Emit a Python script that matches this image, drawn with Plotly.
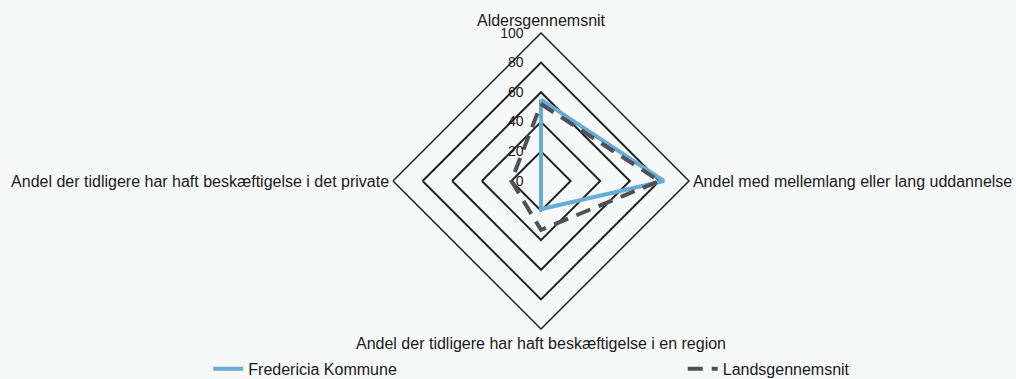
import plotly.graph_objects as go

categories = [
    "Aldersgennemsnit",
    "Andel med mellemlang eller lang uddannelse",
    "Andel der tidligere har haft beskæftigelse i en region",
    "Andel der tidligere har haft beskæftigelse i det private",
]
fredericia = [55, 83, 19, 0]
lands = [52, 80, 33, 20]
radial_ticks = [0, 20, 40, 60, 80, 100]

FONT = "Liberation Sans, Arial, sans-serif"
BG = "#f7f8f8"
GRID = "#222222"


def _closed(values):
    return list(values) + [values[0]]


fig = go.Figure()
fig.add_trace(
    go.Scatterpolar(
        r=_closed(fredericia),
        theta=_closed(categories),
        mode="lines",
        name="Fredericia Kommune",
        line=dict(color="#65acd7", width=4),
        legend="legend",
        showlegend=True,
    )
)
fig.add_trace(
    go.Scatterpolar(
        r=_closed(lands),
        theta=_closed(categories),
        mode="lines",
        name="Landsgennemsnit",
        line=dict(color="#4f5058", width=4, dash="15px,9px"),
        legend="legend2",
        showlegend=True,
    )
)

fig.update_layout(
    width=1016,
    height=379,
    showlegend=True,
    paper_bgcolor=BG,
    plot_bgcolor=BG,
    font=dict(family=FONT, size=16, color="#1a1a1a"),
    margin=dict(l=80, r=14, t=33, b=50),
    polar=dict(
        bgcolor=BG,
        gridshape="linear",
        radialaxis=dict(
            range=[0, 100],
            tickvals=radial_ticks,
            angle=90,
            tickangle=90,
            side="counterclockwise",
            showline=False,
            gridcolor=GRID,
            gridwidth=1.5,
            ticks="outside",
            ticklen=12,
            tickcolor="rgba(0,0,0,0)",
            tickfont=dict(size=14, color="#1a1a1a"),
        ),
        angularaxis=dict(
            direction="clockwise",
            rotation=90,
            showgrid=False,
            showline=True,
            linecolor=GRID,
            linewidth=1.5,
            ticks="",
            tickfont=dict(size=16, color="#1a1a1a"),
        ),
    ),
    legend=dict(
        orientation="h",
        xref="container",
        yref="container",
        x=0.205,
        y=0.027,
        xanchor="left",
        yanchor="middle",
        font=dict(size=16),
        bgcolor="rgba(0,0,0,0)",
    ),
    legend2=dict(
        orientation="h",
        xref="container",
        yref="container",
        x=0.672,
        y=0.027,
        xanchor="left",
        yanchor="middle",
        font=dict(size=16),
        bgcolor="rgba(0,0,0,0)",
    ),
)

fig.write_html(
    "out.html",
    config={"displayModeBar": False},
    post_script="document.body.style.margin='0';document.body.style.background='%s';" % BG,
)
